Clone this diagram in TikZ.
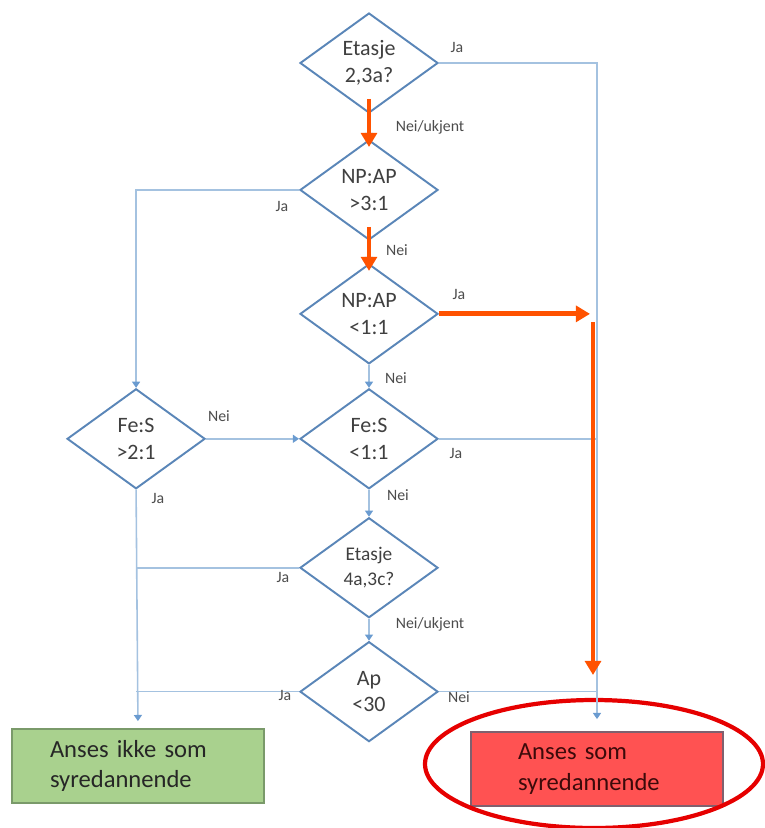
\documentclass[tikz,border=0pt]{standalone}
\usepackage{fontspec}
\setmainfont{Carlito}
\usetikzlibrary{shapes.geometric, positioning, arrows.meta}

\definecolor{frameblue}{HTML}{5A86B8}
\definecolor{lineblue}{HTML}{A4C2E0}
\definecolor{tipblue}{HTML}{6A9BD0}
\definecolor{hotorange}{HTML}{FF5200}
\definecolor{okgreen}{HTML}{A9D18E}
\definecolor{okframe}{HTML}{7A9A6A}
\definecolor{badred}{HTML}{FF5252}
\definecolor{badframe}{HTML}{80606E}
\definecolor{ringred}{HTML}{E60000}

\begin{document}
\begin{tikzpicture}[
		% Style of the question diamonds
		question/.style={
			diamond,
			draw=frameblue,
			line width=1.1pt,
			fill=white,
			aspect=1.38,
			inner sep=0pt,
			minimum width=2.76cm,
			minimum height=2cm,
			align=center,
			text=black!75,
			font=\fontsize{12.5}{15}\selectfont
		},
		% Style of the two result boxes
		endbox/.style={
			fill=#1,
			line width=1pt,
			align=left,
			minimum height=1.48cm,
			font=\fontsize{14}{17.5}\selectfont
		},
		% Thin blue connectors
		conn/.style={draw=lineblue, line width=0.9pt},
		flow/.style={-{Triangle[length=3.5pt, width=4.5pt, color=tipblue]}},
		% Thick orange path
		hot/.style={draw=hotorange, line width=2.8pt, -{Triangle[length=8pt, width=9pt]}},
		% Style of the Ja / Nei labels
		answer/.style={
			font=\fontsize{9}{11}\selectfont,
			text=black!70
		}
		]
		\useasboundingbox (0,0) rectangle (15.3,-16.56);
		
		% --- QUESTIONS ---
		\node[question] (d1) at (7.38,-1.26) {Etasje\\2,3a?};
		
		\node[question, below=0.5cm of d1] (d2) {NP:AP\\>3:1};
		
		\node[question, below=0.44cm of d2] (d3) {NP:AP\\<1:1};
		
		\node[question, below=0.46cm of d3] (d4) {Fe:S\\<1:1};
		
		\node[question, below=0.54cm of d4, font=\fontsize{11}{14}\selectfont] (d5) {Etasje\\4a,3c?};
		
		\node[question, below=0.44cm of d5] (d6) {Ap\\<30};
		
		\node[question, left=1.86cm of d4] (dL) {Fe:S\\>2:1};
		
		% --- RESULTS ---
		\node[endbox=okgreen, draw=okframe, text=black!85, inner xsep=0.76cm, text width=3.52cm] (safe) at (2.76,-15.32) {Anses ikke som\\syredannende};
		
		\node[endbox=badred, draw=badframe, text={rgb,255:red,60;green,10;blue,10}, inner xsep=0.94cm, text width=3.16cm] (red) at (11.94,-15.38) {Anses som\\syredannende};
		
		\node[ellipse, draw=ringred, line width=2.4pt, minimum width=6.76cm, minimum height=2.56cm] (ring) at (11.88,-15.28) {};
		
		% --- BLUE CONNECTORS ---
		\draw[conn, flow] (d1.south) -- (d2.north);
		\draw[conn, flow] (d2.south) -- (d3.north);
		\draw[conn, flow] (d3.south) -- (d4.north);
		\draw[conn, flow] (d4.south) -- (d5.north);
		\draw[conn, flow] (d5.south) -- (d6.north);
		
		\draw[conn, flow, shorten >=0.24cm] (d1.east) -| (red.north);
		\draw[conn] (d4.east) -- (d4.east -| red.north);
		\draw[conn] (d6.east) -- (d6.east -| red.north);
		
		\draw[conn, flow] (d2.west) -| (dL.north);
		\draw[conn, flow] (dL.east) -- (d4.west);
		\draw[conn, flow, shorten >=0.14cm] (dL.south) -- (safe.north);
		\draw[conn] (d5.west) -- (d5.west -| dL.south);
		\draw[conn] (d6.west) -- (d6.west -| dL.south);
		
		% --- ORANGE PATH ---
		\coordinate (fall) at (11.86,-6.44);
		\coordinate (land) at (11.86,-13.5);
		\draw[hot] ([yshift=0.3cm]d1.south) -- ([yshift=-0.16cm]d2.north);
		\draw[hot] ([yshift=0.28cm]d2.south) -- ([yshift=-0.16cm]d3.north);
		\draw[hot] (d3.east) -- ([xshift=-0.14cm]d3.east -| red.north);
		\draw[hot] (fall) -- (land);
		
		% --- ANSWERS ---
		\node[answer] (a1) at (9.14,-0.94) {Ja};
		\node[answer] (a2) at (8.60,-2.54) {Nei/ukjent};
		\node[answer] (a3) at (5.64,-4.12) {Ja};
		\node[answer] (a4) at (7.94,-5.00) {Nei};
		\node[answer] (a5) at (9.18,-5.88) {Ja};
		\node[answer] (a6) at (7.92,-7.56) {Nei};
		\node[answer] (a7) at (4.38,-8.32) {Nei};
		\node[answer] (a8) at (9.12,-9.06) {Ja};
		\node[answer] (a9) at (3.16,-9.96) {Ja};
		\node[answer] (a10) at (7.96,-9.90) {Nei};
		\node[answer] (a11) at (5.66,-11.54) {Ja};
		\node[answer] (a12) at (8.60,-12.48) {Nei/ukjent};
		\node[answer] (a13) at (5.70,-13.90) {Ja};
		\node[answer] (a14) at (9.18,-13.94) {Nei};
		
	\end{tikzpicture}
\end{document}
